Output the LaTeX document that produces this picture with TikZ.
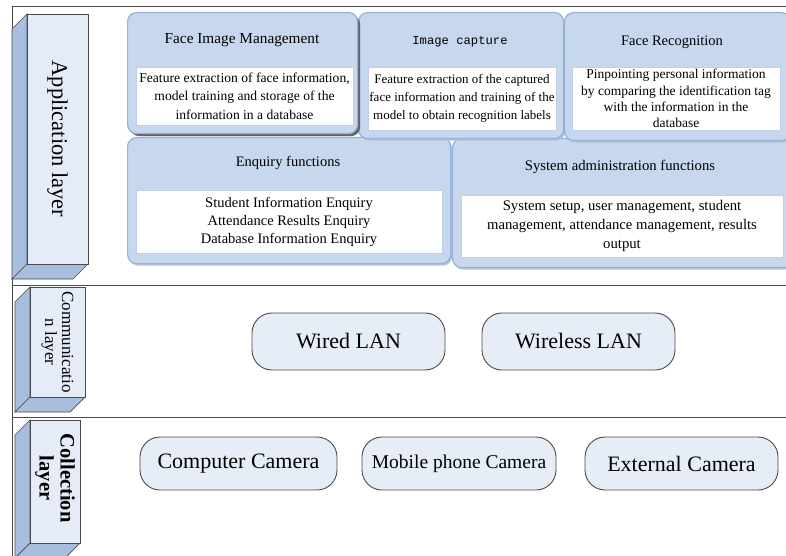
\documentclass[tikz,border=0pt]{standalone}
\usepackage{fontspec}
\setmainfont{Liberation Serif}
\setmonofont{Liberation Mono}
\usetikzlibrary{shadows}
\definecolor{frontc}{HTML}{E5ECF7}
\definecolor{depthc}{HTML}{A8BEDF}
\definecolor{boxc}{HTML}{C7D7EE}
\definecolor{boxb}{HTML}{97B0D6}
\definecolor{shadc}{HTML}{B4C1D6}
\definecolor{darkshad}{HTML}{5F6672}
\definecolor{pillc}{HTML}{E6EDF7}
\definecolor{linec}{HTML}{4A4A4A}
\tikzset{
  appbox/.style={draw=boxb, fill=boxc, rounded corners=9pt, line width=1.2pt, anchor=north west, inner sep=0pt,
    drop shadow={shadow xshift=1.5pt, shadow yshift=-2pt, fill=shadc, opacity=1}},
  selbox/.style={draw=boxb, fill=boxc, rounded corners=9pt, line width=1.2pt, anchor=north west, inner sep=0pt,
    drop shadow={shadow xshift=2.5pt, shadow yshift=-2.5pt, fill=darkshad, opacity=1}},
  inbox/.style={draw=boxb!60, fill=white, line width=0.5pt, inner sep=0pt, align=center},
  ttl/.style={inner sep=0pt, font=\fontsize{14.5}{16}\selectfont},
  pill/.style={draw=linec, fill=pillc, rounded corners=20pt, line width=0.9pt, inner sep=0pt,
    minimum height=55pt, font=\fontsize{22}{24}\selectfont},
  frontface/.style={fill=frontc, draw=linec, line width=0.7pt},
  depthface/.style={fill=depthc, draw=linec, line width=0.7pt},
  frame/.style={draw=linec, line width=1pt},
  lbl/.style={rotate=-90, align=center, inner sep=0pt}
}
\begin{document}
\begin{tikzpicture}[x=1pt,y=-1pt]
\useasboundingbox (0,0) rectangle (786,556);
\clip (0,0) rectangle (786,556);

% frame
\draw[frame] (786,7) -- (12,7) -- (12,556);
\draw[frame] (12,285) -- (786,285);
\draw[frame] (12,417) -- (786,417);

% application layer cube
\draw[depthface] (27,14) -- (12,29) -- (12,279) -- (27,264) -- cycle;
\draw[depthface] (27,264) -- (88,264) -- (73,279) -- (12,279) -- cycle;
\draw[frontface] (27,14) rectangle (88,264);
\node[lbl, font=\fontsize{22.5}{24}\selectfont] (applbl) at (57.5,139) {Application layer};

% communication layer cube
\draw[depthface] (30,287) -- (15,302) -- (15,412) -- (30,397) -- cycle;
\draw[depthface] (30,397) -- (85,397) -- (70,412) -- (15,412) -- cycle;
\draw[frontface] (30,287) rectangle (85,397);
\node[lbl, font=\fontsize{17}{17}\selectfont] (comlbl) at (57.5,342) {Communicatio\\n layer};

% collection layer cube
\draw[depthface] (30,420) -- (15,435) -- (15,558) -- (30,543) -- cycle;
\draw[depthface] (30,543) -- (80,543) -- (65,558) -- (15,558) -- cycle;
\draw[frontface] (30,420) rectangle (80,543);
\node[lbl, font=\bfseries\fontsize{20.5}{21}\selectfont] (collbl) at (55,478) {Collection\\layer};

% application boxes, second row
\node[appbox, minimum width=323pt, minimum height=126pt] (ef) at (127,137) {};
\node[appbox, minimum width=340pt, minimum height=129pt] (sa) at (452,138) {};
\node[ttl] (eft) at (288,163) {Enquiry functions};
\node[ttl, font=\fontsize{14.7}{16}\selectfont] (sat) at (620,167) {System administration functions};
\node[inbox, minimum width=306pt, minimum height=63pt, font=\fontsize{14.5}{18}\selectfont] (efi) at (289,221.5)
  {Student Information Enquiry\\Attendance Results Enquiry\\Database Information Enquiry};
\node[inbox, minimum width=322pt, minimum height=62pt, font=\fontsize{14.7}{19}\selectfont] (sai) at (622,226)
  {System setup, user management, student\\management, attendance management, results\\output};

% application boxes, first row
\node[appbox, minimum width=205pt, minimum height=126pt] (ic) at (358,12) {};
\node[appbox, minimum width=226pt, minimum height=128pt] (fr) at (564,12) {};
\node[selbox, minimum width=230pt, minimum height=121pt] (fim) at (127,12) {};

\node[ttl, font=\fontsize{15.3}{17}\selectfont] (fimt) at (242,40) {Face Image Management};
\node[ttl, font=\ttfamily\fontsize{12.2}{14}\selectfont] (ict) at (460,42) {Image capture};
\node[ttl] (frt) at (672,42) {Face Recognition};

\node[inbox, minimum width=217pt, minimum height=58pt, font=\fontsize{13.6}{18.5}\selectfont] (fimi) at (244.5,96)
  {Feature extraction of face information,\\model training and storage of the\\information in a database};
\node[inbox, minimum width=188pt, minimum height=63pt, font=\fontsize{13}{18}\selectfont] (ici) at (462,98.5)
  {Feature extraction of the captured\\face information and training of the\\model to obtain recognition labels};
\node[inbox, minimum width=208pt, minimum height=63pt, font=\fontsize{13.5}{16.2}\selectfont] (fri) at (676,98.5)
  {Pinpointing personal information\\by comparing the identification tag\\with the information in the\\database};

% communication layer
\node[pill, minimum width=193pt, minimum height=57pt] (wired) at (348.5,341.5) {Wired LAN};
\node[pill, minimum width=193pt, minimum height=57pt] (wireless) at (578.5,341.5) {Wireless LAN};

% collection layer
\node[pill, minimum width=197pt, minimum height=53pt] (ccam) at (238.5,463.5) {Computer Camera};
\node[pill, minimum width=194pt, minimum height=53pt, font=\fontsize{19.5}{21}\selectfont] (mcam) at (459,463.5) {Mobile phone Camera};
\node[pill, minimum width=193pt, minimum height=53pt] (ecam) at (681.5,463.5) {External Camera};
\end{tikzpicture}
\end{document}
